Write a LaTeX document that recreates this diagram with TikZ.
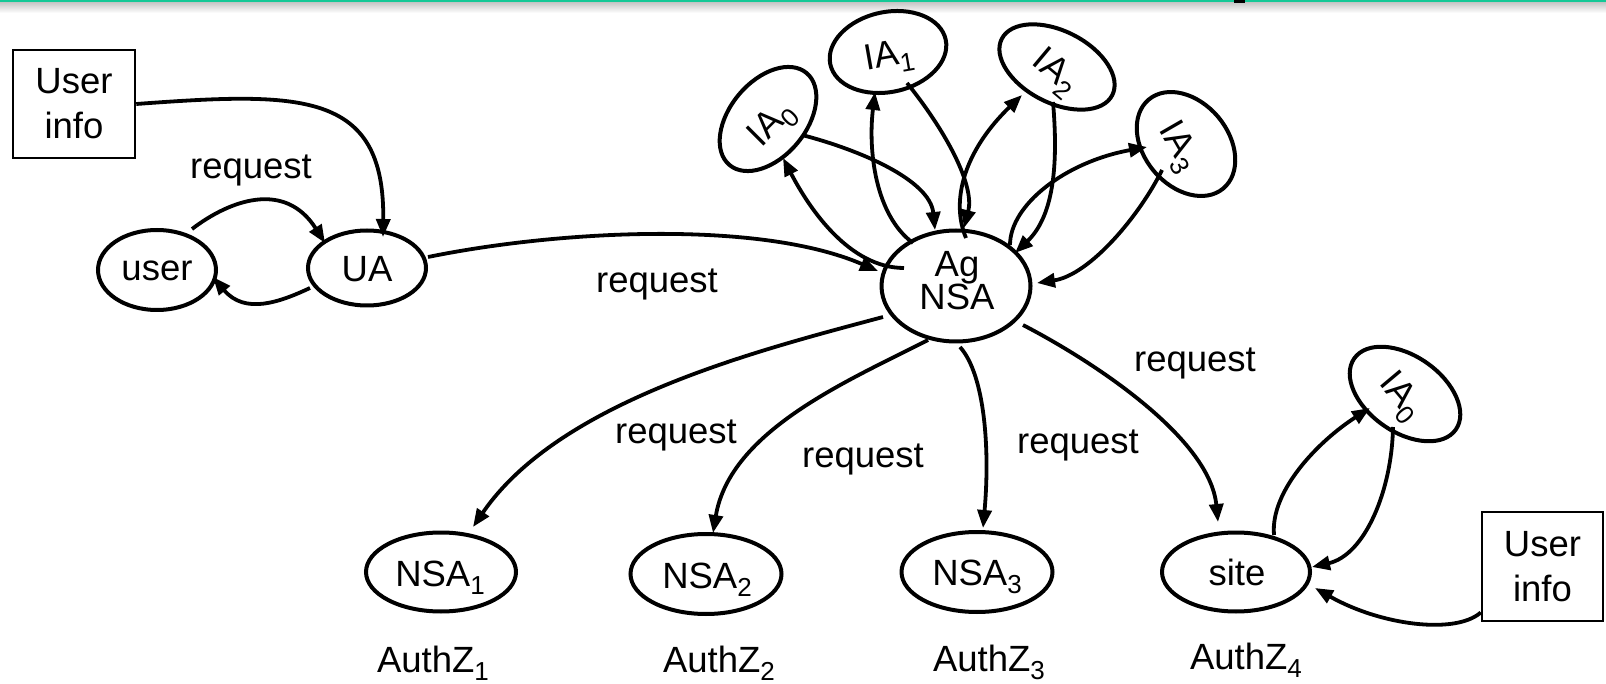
\documentclass[tikz,border=0pt]{standalone}
\usepackage{fontspec}
\setmainfont{Liberation Sans}
\usetikzlibrary{shapes.geometric,arrows.meta,calc}
\newcommand\subtxt[1]{\raisebox{-8.5pt}{\fontsize{26}{26}\selectfont #1}}
\definecolor{topgreen}{RGB}{20,200,150}
\begin{document}
\begin{tikzpicture}[x=1pt,y=-1pt,
  ell/.style={draw, line width=4pt, ellipse, inner sep=0pt},
  txt/.style={font=\fontsize{36.5}{45}\selectfont, inner sep=0pt},
  infobox/.style={draw, line width=2.5pt, inner sep=0pt, align=center, font=\fontsize{36.5}{45}\selectfont},
  edge/.style={line width=3.8pt, -{Triangle[length=18pt,width=14pt]}}]
\useasboundingbox (0,0) rectangle (1606,684);
% top decoration
\fill[topgreen] (0,0) rectangle (1606,2.5);
\shade[top color=black!22, bottom color=white] (0,2.5) rectangle (1606,13);
\fill[black] (1234,0) rectangle (1245,3);

% boxes
\node[infobox, minimum width=122pt, minimum height=108pt] (uinfoA) at (74,104) {User\\info};
\node[infobox, minimum width=121pt, minimum height=109pt] (uinfoB) at (1542.5,566.5) {User\\info};

% ellipses
\node[ell, minimum width=118pt, minimum height=80pt] (user) at (157,270) {};
\node[ell, minimum width=118pt, minimum height=75pt] (ua) at (367,268) {};
\node[ell, minimum width=149pt, minimum height=111pt] (ag) at (956,286) {};
\node[ell, rotate=50, minimum width=120pt, minimum height=76pt] (ia0) at (768,119) {};
\node[ell, rotate=12, minimum width=118pt, minimum height=80pt] (ia1) at (888,52) {};
\node[ell, rotate=-27, minimum width=124pt, minimum height=72pt] (ia2) at (1057,67) {};
\node[ell, rotate=-50, minimum width=116pt, minimum height=84pt] (ia3) at (1186,144) {};
\node[ell, minimum width=150pt, minimum height=79pt] (nsa1) at (441,572) {};
\node[ell, minimum width=151pt, minimum height=80pt] (nsa2) at (706,574) {};
\node[ell, minimum width=151pt, minimum height=80pt] (nsa3) at (977,572) {};
\node[ell, minimum width=148pt, minimum height=79pt] (site) at (1236,572) {};
\node[ell, rotate=-35, minimum width=124pt, minimum height=76pt] (ia0b) at (1405,394) {};

% node texts
\node[txt, anchor=base] (usert) at (157,281) {user};
\node[txt, anchor=base] (uat) at (367,282) {UA};
\node[txt, anchor=base] (agt1) at (957,277) {Ag};
\node[txt, anchor=base] (agt2) at (957,310) {NSA};
\node[txt, rotate=45] (ia0t) at (773,125) {IA\subtxt{0}};
\node[txt, rotate=10] (ia1t) at (889,58) {IA\subtxt{1}};
\node[txt, rotate=-40] (ia2t) at (1055,73) {IA\subtxt{2}};
\node[txt, rotate=-60] (ia3t) at (1178,147) {IA\subtxt{3}};
\node[txt, rotate=-50] (ia0bt) at (1400,397) {IA\subtxt{0}};
\node[txt, anchor=base] (nsa1t) at (440,586) {NSA\subtxt{1}};
\node[txt, anchor=base] (nsa2t) at (707,588) {NSA\subtxt{2}};
\node[txt, anchor=base] (nsa3t) at (977,585) {NSA\subtxt{3}};
\node[txt, anchor=base] (sitet) at (1237,585) {site};

% AuthZ labels
\node[txt, anchor=base] (az1) at (433,672) {AuthZ\subtxt{1}};
\node[txt, anchor=base] (az2) at (719,672) {AuthZ\subtxt{2}};
\node[txt, anchor=base] (az3) at (989,671) {AuthZ\subtxt{3}};
\node[txt, anchor=base] (az4) at (1246,669) {AuthZ\subtxt{4}};

% request labels
\node[txt, anchor=base] (rq0) at (251,179) {request};
\node[txt, anchor=base] (rq1) at (657,293) {request};
\node[txt, anchor=base] (rq2) at (676,443) {request};
\node[txt, anchor=base] (rq3) at (863,467) {request};
\node[txt, anchor=base] (rq4) at (1078,453) {request};
\node[txt, anchor=base] (rq5) at (1195,372) {request};

% connectors
\draw[edge] (uinfoA.east) .. controls (300,92) and (385,90) .. ($(ua)+(16,-31)$);
\draw[edge] ($(user)+(35,-41)$) .. controls (230,200) and (285,180) .. ($(ua)+(-42,-25)$);
\draw[edge] ($(ua)+(-57,20)$) .. controls (280,302) and (245,315) .. ($(user)+(56,7)$);
\draw[edge] ($(ua)+(61,-11)$) .. controls (560,230) and (760,220) .. ($(ag)+(-78,-15)$);
\draw[edge] ($(ag)+(-52,-18)$) .. controls (850,268) and (810,210) .. ($(ia0)+(15,39)$);
\draw[edge] ($(ia0)+(34,16)$) .. controls (860,150) and (930,180) .. ($(ag)+(-21,-56)$);
\draw[edge] ($(ag)+(-43,-43)$) .. controls (875,215) and (868,150) .. ($(ia1)+(-13,40)$);
\draw[edge] ($(ia1)+(19,31)$) .. controls (945,130) and (975,185) .. ($(ag)+(8,-58)$);
\draw[edge] ($(ag)+(10,-48)$) .. controls (950,200) and (965,150) .. ($(ia2)+(-35,28)$);
\draw[edge] ($(ia2)+(-4,35)$) .. controls (1058,160) and (1055,215) .. ($(ag)+(59,-33)$);
\draw[edge] ($(ag)+(54,-41)$) .. controls (1010,205) and (1065,162) .. ($(ia3)+(-39,3)$);
\draw[edge] ($(ia3)+(-24,26)$) .. controls (1140,215) and (1090,275) .. ($(ag)+(81,-3)$);
\draw[edge] ($(ag)+(-73,31)$) .. controls (760,350) and (560,400) .. ($(nsa1)+(32,-45)$);
\draw[edge] ($(ag)+(-28,54)$) .. controls (850,380) and (730,430) .. ($(nsa2)+(7,-41)$);
\draw[edge] ($(ag)+(4,61)$) .. controls (985,375) and (990,450) .. ($(nsa3)+(6,-44)$);
\draw[edge] ($(ag)+(67,39)$) .. controls (1100,365) and (1210,440) .. ($(site)+(-18,-50)$);
\draw[edge] ($(site)+(38,-37)$) .. controls (1270,490) and (1320,440) .. ($(ia0b)+(-35,14)$);
\draw[edge] ($(ia0b)+(-12,33)$) .. controls (1392,490) and (1365,555) .. ($(site)+(76,-5)$);
\draw[edge] ($(uinfoB.west)+(0,46)$) .. controls (1455,635) and (1380,625) .. ($(site)+(79,16)$);
\end{tikzpicture}
\end{document}
